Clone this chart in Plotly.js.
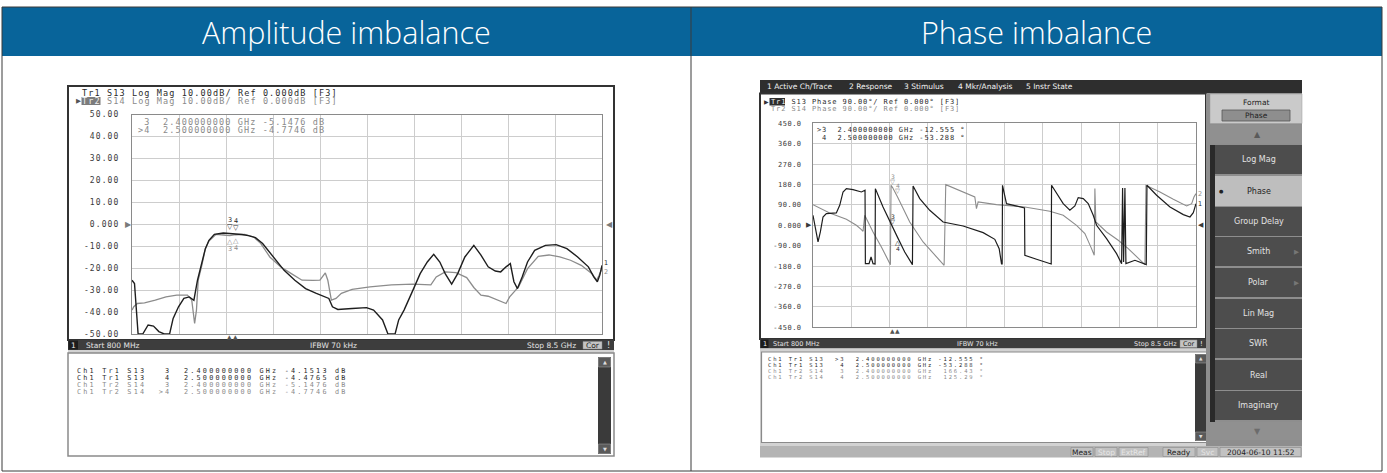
<!DOCTYPE html>
<html>
<head>
<meta charset="utf-8">
<script src="https://cdn.plot.ly/plotly-3.0.1.min.js"></script>
<style>
html,body{margin:0;padding:0;background:#ffffff;}
#chart{width:1387px;height:473px;}
</style>
</head>
<body>
<div id="chart"></div>
<script>
// ---------------- DATA ----------------
const headerTitles = ['Amplitude imbalance', 'Phase imbalance'];

// Amplitude (Log Mag) traces, frequency in GHz, values in dB
const ampFreqS13 = [0.800,0.841,0.900,0.976,1.064,1.152,1.240,1.328,1.416,1.474,1.562,1.650,1.738,1.814,1.873,1.932,2.002,2.061,2.149,2.295,2.400,2.500,2.600,2.706,2.823,2.940,3.116,3.292,3.468,3.644,3.820,4.025,4.084,4.172,4.406,4.641,4.758,4.905,4.993,5.110,5.169,5.257,5.403,5.521,5.638,5.743,5.843,5.931,6.037,6.136,6.253,6.400,6.517,6.635,6.752,6.840,6.928,6.998,7.057,7.115,7.192,7.280,7.397,7.573,7.749,7.925,8.101,8.277,8.365,8.424,8.464,8.500];
const ampS13 = [-25.5,-27.0,-50,-50,-45.9,-46.4,-48.9,-50,-50,-42.9,-37.6,-33.8,-33.1,-34.6,-25.5,-19.4,-11.1,-7.3,-4.6,-4.0,-4.1513,-4.4765,-4.7,-5.2,-6.1,-8.8,-14.9,-21.0,-25.5,-29.3,-31.5,-33.8,-37.6,-38.8,-38.4,-38.0,-39.1,-43.6,-50,-50,-43.6,-39.1,-30.0,-22.5,-17.2,-13.7,-17.2,-22.5,-27.3,-22.5,-14.9,-9.6,-14.1,-19.4,-21.3,-21.7,-19.4,-17.9,-26.2,-29.3,-24.0,-17.2,-11.9,-9.6,-9.3,-11.1,-14.9,-19.4,-24.0,-26.2,-23.2,-18.7];
const ampFreqS14 = [0.800,0.829,0.888,1.005,1.181,1.357,1.533,1.709,1.779,1.826,1.856,1.885,1.944,2.002,2.061,2.178,2.300,2.400,2.500,2.647,2.794,2.911,3.058,3.234,3.410,3.586,3.762,3.879,3.967,4.008,4.066,4.142,4.230,4.406,4.699,5.051,5.403,5.696,5.784,5.931,6.107,6.283,6.400,6.517,6.635,6.781,6.928,6.987,7.133,7.280,7.456,7.632,7.808,7.984,8.160,8.336,8.412,8.453,8.500];
const ampS14 = [-39.1,-37.6,-36.1,-35.8,-34.6,-33.1,-32.3,-32.3,-34.6,-45.2,-39.1,-25.5,-18.7,-11.1,-7.6,-4.6,-4.9,-5.1476,-4.7746,-4.6,-5.8,-8.8,-14.9,-19.4,-22.5,-25.5,-25.6,-25.5,-22.2,-25.5,-34.6,-33.8,-31.5,-29.7,-28.5,-27.6,-27.3,-27.6,-24.0,-21.7,-22.0,-24.3,-28.8,-32.3,-32.8,-34.6,-36.1,-33.1,-28.5,-20.2,-14.6,-14.0,-14.9,-16.4,-18.7,-22.5,-25.5,-23.2,-20.2];

// Phase traces, frequency in GHz, values in degrees
const phFreqS13 = [0.800,0.854,0.901,0.948,1.001,1.068,1.269,1.337,1.404,1.471,1.605,1.773,1.846,1.853,1.927,1.967,2.007,2.048,2.054,2.208,2.400,2.500,2.644,2.799,2.812,2.946,3.147,3.416,3.818,4.221,4.455,4.543,4.590,4.603,4.610,4.690,5.052,5.059,5.294,5.562,5.589,5.596,5.663,5.830,5.964,6.065,6.132,6.233,6.333,6.434,6.501,6.702,6.903,7.004,7.024,7.044,7.071,7.091,7.272,7.440,7.500,7.514,7.708,7.977,8.245,8.379,8.446,8.500];
const phS13 = [44.1,-29.4,-73.5,-29.4,36.8,51.5,54.4,88.2,147.1,161.8,157.4,147.1,154.4,-169.1,-169.1,-139.7,-169.1,-170.6,161.8,80.9,-12.555,-53.288,-117.6,-173.5,173.5,117.6,66.2,14.7,-2.9,-32.4,-61.8,-102.9,-170.6,-170.6,176.5,95.6,76.5,-132.4,-150.0,-170.6,-170.6,176.5,154.4,95.6,66.2,85.3,122.1,117.6,95.6,44.1,0,-58.8,-125.0,-169.1,164.7,-161.8,164.7,-169.1,-154.4,-170.6,-173.5,176.5,132.4,80.9,47.1,36.8,55.9,95.6];
const phFreqS14 = [0.800,0.934,1.135,1.471,1.672,1.773,1.806,1.840,2.007,2.175,2.356,2.369,2.400,2.500,2.745,3.013,3.248,3.436,3.469,3.818,4.053,4.086,4.120,4.489,5.059,5.562,5.830,6.098,6.266,6.400,6.454,6.467,6.487,6.702,6.937,7.138,7.339,7.473,7.494,7.775,8.044,8.312,8.413,8.459,8.500];
const phS14 = [91.2,76.5,54.4,26.5,0,-19.1,-26.5,44.1,-29.4,-95.6,-173.5,176.5,166.43,125.29,14.7,-73.5,-132.4,-176.5,179.4,147.1,125.0,73.5,102.9,91.2,80.9,61.8,44.1,0,-36.8,-102.9,-132.4,161.8,14.7,-29.4,-66.2,-102.9,-144.1,-173.5,176.5,147.1,114.7,85.3,95.6,125.0,139.7];

// Markers
const markerNames = ['3', '4'];
const markerFreq = [2.4, 2.5];
const ampS13Marker = [-4.1513, -4.4765];
const ampS14Marker = [-5.1476, -4.7746];
const phS13Marker = [-12.555, -53.288];
const phS14Marker = [166.43, 125.29];

// Axis ticks
const ampTickVals = [50,40,30,20,10,0,-10,-20,-30,-40,-50];
const ampTickText = ['50.00','40.00','30.00','20.00','10.00','0.000','-10.00','-20.00','-30.00','-40.00','-50.00'];
const phTickVals = [450,360,270,180,90,0,-90,-180,-270,-360,-450];
const phTickText = ['450.0','360.0','270.0','180.0','90.00','0.000','-90.00','-180.0','-270.0','-360.0','-450.0'];

// Instrument texts
const menuItems = ['1 Active Ch/Trace','2 Response','3 Stimulus','4 Mkr/Analysis','5 Instr State'];
const softkeys = ['Log Mag','Phase','Group Delay','Smith','Polar','Lin Mag','SWR','Real','Imaginary'];
const statusItems = ['Meas','Stop','ExtRef','Ready','Svc','2004-06-10 11:52'];

// ---------------- HELPERS ----------------
const W = 1387, H = 473;
const px = v => v / W;
const py = v => 1 - v / H;
const MONO = 'DejaVu Sans Mono, Liberation Mono, monospace';
const SANS = 'DejaVu Sans, Liberation Sans, sans-serif';
const nb = s => s.replace(/ /g, '\u00a0');
const sp = (s, l) => `<span style="letter-spacing:${l}px">${nb(s)}</span>`;

const shapes = [];
const annotations = [];
function rect(x0, y0, x1, y1, fill, lc, lw) {
  shapes.push({type:'rect', xref:'paper', yref:'paper', x0:px(x0), x1:px(x1), y0:py(y1), y1:py(y0),
    fillcolor: fill || 'rgba(0,0,0,0)', line:{color: lc || 'rgba(0,0,0,0)', width: lw || 0}, layer:'below'});
}
function seg(x0, y0, x1, y1, c, w) {
  shapes.push({type:'line', xref:'paper', yref:'paper', x0:px(x0), x1:px(x1), y0:py(y0), y1:py(y1),
    line:{color:c, width:w}, layer:'below'});
}
function txt(x, y, text, o) {
  o = o || {};
  annotations.push({xref:'paper', yref:'paper', x:px(x), y:py(y), text:text, showarrow:false,
    xanchor:o.xa || 'left', yanchor:'middle', align:'left', borderpad:0,
    font:{family:o.f || SANS, size:o.s || 8, color:o.c || '#222', weight:o.w || 400}});
}
function dtxt(xr, yr, x, y, text, o) {
  annotations.push({xref:xr, yref:yr, x:x, y:y, text:text, showarrow:false,
    xanchor:o.xa || 'center', yanchor:o.ya || 'middle', xshift:o.xs || 0, yshift:o.ys || 0, borderpad:0,
    font:{family:o.f || SANS, size:o.s || 8, color:o.c || '#222'}});
}

// ---------------- TABLE ----------------
rect(2, 7, 1382, 56, '#08649a');
rect(2, 7, 1382, 471, null, '#3a3a3a', 1);
seg(691, 7, 691, 471, '#3a3a3a', 1);
txt(346.5, 32, headerTitles[0], {xa:'center', f:'Open Sans, sans-serif', s:30.5, c:'#ffffff', w:300});
txt(1036.5, 32, headerTitles[1], {xa:'center', f:'Open Sans, sans-serif', s:30.5, c:'#ffffff', w:300});

// ---------------- LEFT SCREENSHOT ----------------
rect(68, 86, 614, 340, '#ffffff', '#333333', 2);
rect(68, 340, 614, 350, '#3d3d3d');
rect(68.5, 340.5, 78, 349.5, '#1c1c1c');
txt(73, 345.3, '1', {xa:'center', s:7.5, c:'#eeeeee'});
txt(85, 345.3, 'Start 800 MHz', {s:7.5, c:'#e4e4e4'});
txt(333, 345.3, 'IFBW 70 kHz', {xa:'center', s:7.5, c:'#e4e4e4'});
txt(577, 345.3, 'Stop 8.5 GHz', {xa:'right', s:7.5, c:'#e4e4e4'});
rect(583, 341.5, 602, 349, '#c4c4c4', '#888', 0.5);
txt(592.5, 345.3, 'Cor', {xa:'center', s:7.5, c:'#222'});
txt(608.5, 345.3, '!', {xa:'center', s:8, c:'#eeeeee'});
rect(68, 350, 614, 357, '#d2d2d2');
rect(68, 353, 614, 456, '#ffffff', '#8a8a8a', 1.5);
rect(598, 357, 611, 454, '#3a3a3a');
rect(598.5, 357.5, 610.5, 367, '#5a5a5a', '#aaa', 0.5);
rect(598.5, 444, 610.5, 453.5, '#5a5a5a', '#aaa', 0.5);
txt(604.5, 362, '▲', {xa:'center', s:5, c:'#dddddd'});
txt(604.5, 449, '▼', {xa:'center', s:5, c:'#dddddd'});

// header lines
rect(81.5, 97, 100.5, 105, '#7c7c7c');
txt(78.5, 101.2, '▶', {xa:'center', s:6.5, c:'#555'});
txt(80.5, 92.6, sp('Tr1 S13 Log Mag 10.00dB/ Ref 0.000dB [F3]', 1.12), {f:MONO, s:8.5, c:'#2a2a2a'});
txt(80.5, 101.2, '<span style="letter-spacing:1.12px;fill:#f0f0f0">Tr2</span>' + sp(' S14 Log Mag 10.00dB/ Ref 0.000dB [F3]', 1.12), {f:MONO, s:8.5, c:'#8a8a8a'});

// in-plot readout (active trace Tr2)
txt(136.5, 122, sp(' ' + markerNames[0] + '  ' + markerFreq[0].toFixed(9) + ' GHz ' + ampS14Marker[0].toFixed(4) + ' dB', 1.12), {f:MONO, s:8.5, c:'#8a8a8a'});
txt(136.5, 130.3, sp('>' + markerNames[1] + '  ' + markerFreq[1].toFixed(9) + ' GHz ' + ampS14Marker[1].toFixed(4) + ' dB', 1.12), {f:MONO, s:8.5, c:'#8a8a8a'});

// marker table lines
const ampRows = [
  ['Ch1 Tr1 S13   ' + markerNames[0], markerFreq[0], ampS13Marker[0], '#2a2a2a'],
  ['Ch1 Tr1 S13   ' + markerNames[1], markerFreq[1], ampS13Marker[1], '#2a2a2a'],
  ['Ch1 Tr2 S14   ' + markerNames[0], markerFreq[0], ampS14Marker[0], '#8a8a8a'],
  ['Ch1 Tr2 S14  >' + markerNames[1], markerFreq[1], ampS14Marker[1], '#8a8a8a']
];
ampRows.forEach((r, i) => {
  txt(75.5, 371 + i * 7, sp(r[0] + '  ' + r[1].toFixed(9) + ' GHz ' + r[2].toFixed(4) + ' dB', 2.2), {f:MONO, s:6.8, c:r[3]});
});

// ---------------- RIGHT SCREENSHOT ----------------
rect(760, 80, 1302, 93.5, '#2e2e2e');
const menuX = [766, 848, 903, 957, 1025];
menuItems.forEach((m, i) => txt(menuX[i], 87, m, {s:7.5, c:'#f2f2f2'}));

rect(760, 93.5, 1206, 339, '#ffffff', '#333333', 2);
rect(769.5, 98, 785, 105.5, '#2e2e2e');
txt(766, 101.8, '▶', {xa:'center', s:6, c:'#333'});
txt(769.5, 101.8, '<span style="letter-spacing:0.9px;fill:#f0f0f0">Tr1</span>' + sp(' S13 Phase 90.00°/ Ref 0.000° [F3]', 0.9), {f:MONO, s:7, c:'#2a2a2a'});
txt(769.5, 109, sp('Tr2 S14 Phase 90.00°/ Ref 0.000° [F3]', 0.9), {f:MONO, s:7, c:'#8a8a8a'});

txt(815.5, 130.3, sp('>' + markerNames[0] + '  ' + markerFreq[0].toFixed(9) + ' GHz ' + phS13Marker[0].toFixed(3) + ' °', 0.9), {f:MONO, s:7, c:'#2a2a2a'});
txt(815.5, 137.6, sp(' ' + markerNames[1] + '  ' + markerFreq[1].toFixed(9) + ' GHz ' + phS13Marker[1].toFixed(3) + ' °', 0.9), {f:MONO, s:7, c:'#2a2a2a'});

// status bar of right chart
rect(760, 339, 1206, 348.5, '#3d3d3d');
rect(761, 339.5, 768.5, 348, '#1c1c1c');
txt(764.7, 343.8, '1', {xa:'center', s:6.5, c:'#eeeeee'});
txt(771.5, 343.8, 'Start 800 MHz', {s:6.5, c:'#e4e4e4'});
txt(977, 343.8, 'IFBW 70 kHz', {xa:'center', s:6.5, c:'#e4e4e4'});
txt(1178, 343.8, 'Stop 8.5 GHz', {xa:'right', s:6.5, c:'#e4e4e4'});
rect(1180, 340, 1197, 347.5, '#c4c4c4', '#888', 0.5);
txt(1188.5, 343.8, 'Cor', {xa:'center', s:6.5, c:'#222'});
txt(1201.5, 343.8, '!', {xa:'center', s:7, c:'#eeeeee'});

// marker table of right chart
rect(760, 348.5, 1209, 446, '#d2d2d2');
rect(761.5, 352, 1208, 442.5, '#ffffff', '#8a8a8a', 1.2);
rect(1195, 354, 1207, 441, '#3a3a3a');
rect(1195.5, 354.5, 1206.5, 363, '#5a5a5a', '#aaa', 0.5);
rect(1195.5, 432, 1206.5, 440.5, '#5a5a5a', '#aaa', 0.5);
txt(1201, 358.8, '▲', {xa:'center', s:4.5, c:'#dddddd'});
txt(1201, 436.3, '▼', {xa:'center', s:4.5, c:'#dddddd'});
const phRows = [
  ['Ch1 Tr1 S13  >' + markerNames[0], markerFreq[0], phS13Marker[0].toFixed(3), '#2a2a2a'],
  ['Ch1 Tr1 S13   ' + markerNames[1], markerFreq[1], phS13Marker[1].toFixed(3), '#2a2a2a'],
  ['Ch1 Tr2 S14   ' + markerNames[0], markerFreq[0], phS14Marker[0].toFixed(2), '#8a8a8a'],
  ['Ch1 Tr2 S14   ' + markerNames[1], markerFreq[1], phS14Marker[1].toFixed(2), '#8a8a8a']
];
phRows.forEach((r, i) => {
  txt(767, 358.5 + i * 6, sp(r[0] + '  ' + r[1].toFixed(9) + ' GHz ' + r[2].padStart(7, ' ') + ' °', 1.85), {f:MONO, s:5.5, c:r[3]});
});

// softkey column
rect(1206, 93.5, 1302, 446, '#8e8e8e');
rect(1210, 94, 1302, 123.5, '#cacaca', '#9a9a9a', 0.5);
txt(1256, 102.8, 'Format', {xa:'center', s:7.5, c:'#222'});
rect(1222, 110, 1290, 121, '#8e8e8e', '#555', 0.8);
txt(1256, 115.6, 'Phase', {xa:'center', s:7.5, c:'#222'});
rect(1210, 125, 1302, 143.5, '#909090');
txt(1257, 134, '▲', {xa:'center', s:8, c:'#5a5a5a'});
rect(1210, 145, 1215, 440, '#2a2a2a');
const keyY = [[145,174],[176,206],[207,236],[237,266],[268,297],[299,328],[329,358],[360,390],[391,420]];
softkeys.forEach((k, i) => {
  const sel = k === 'Phase';
  rect(1215, keyY[i][0], 1302, keyY[i][1], sel ? '#bebebe' : '#4d4d4d');
  const yc = (keyY[i][0] + keyY[i][1]) / 2;
  txt(1258.5, yc, k, {xa:'center', s:8, c: sel ? '#1e1e1e' : '#e2e2e2'});
  if (sel) txt(1221, yc, '●', {xa:'center', s:5, c:'#222'});
  if (k === 'Smith' || k === 'Polar') txt(1296, yc, '▶', {xa:'center', s:6.5, c:'#767676'});
});
rect(1210, 422, 1302, 440, '#909090');
txt(1257, 431, '▼', {xa:'center', s:8, c:'#6c6c6c'});

// bottom status bar
rect(760, 446, 1302, 457.5, '#b4b4b4');
const statusX = [[1071,1093],[1095,1117],[1119,1148],[1163,1195],[1197,1218],[1220,1301]];
statusItems.forEach((s, i) => {
  const dim = (s === 'Stop' || s === 'ExtRef' || s === 'Svc');
  rect(statusX[i][0], 447.5, statusX[i][1], 456.5, '#c2c2c2', '#8a8a8a', 0.6);
  txt((statusX[i][0] + statusX[i][1]) / 2, 452, s, {xa:'center', s:7.5, c: dim ? '#e6e6e6' : '#1e1e1e'});
});

// ---------------- PLOT-LINKED MARKS ----------------
const DARK = '#1e1e1e', GRAY = '#8c8c8c';
// reference triangles at 0
dtxt('paper', 'y', px(128.5), 0, '▶', {s:8, c:'#7a7a7a'});
dtxt('paper', 'y', px(609), 0, '◀', {s:8, c:'#7a7a7a'});
dtxt('paper', 'y2', px(808.5), 0, '▶', {s:7, c:'#3a3a3a'});
dtxt('paper', 'y2', px(1201), 0, '◀', {s:7, c:'#3a3a3a'});
markerFreq.forEach((f, i) => {
  // amplitude chart markers
  dtxt('x', 'y', f, ampS13Marker[i], '▽', {ya:'bottom', s:7, c:DARK, ys:1});
  dtxt('x', 'y', f, ampS13Marker[i], markerNames[i], {ya:'bottom', s:6.5, c:DARK, ys:8});
  dtxt('x', 'y', f, ampS14Marker[i], '△', {ya:'top', s:7, c:GRAY, ys:-1});
  dtxt('x', 'y', f, ampS14Marker[i], markerNames[i], {ya:'top', s:6.5, c:GRAY, ys:-8});
  dtxt('x', 'y', f, -50, '▲', {ya:'top', s:6, c:'#555', ys:2});
  // phase chart markers
  dtxt('x2', 'y2', f, phS14Marker[i], '▽', {ya:'bottom', s:6.5, c:GRAY, ys:1});
  dtxt('x2', 'y2', f, phS14Marker[i], markerNames[i], {ya:'bottom', s:6, c:GRAY, ys:7});
  dtxt('x2', 'y2', f, -450, '▲', {ya:'top', s:6, c:'#555', ys:1});
});
dtxt('x2', 'y2', markerFreq[0], phS13Marker[0], '▽', {ya:'bottom', s:6.5, c:DARK, ys:1});
dtxt('x2', 'y2', markerFreq[0], phS13Marker[0], markerNames[0], {ya:'bottom', s:6, c:DARK, ys:7});
dtxt('x2', 'y2', markerFreq[1], phS13Marker[1], '△', {ya:'top', s:6.5, c:DARK, ys:-1});
dtxt('x2', 'y2', markerFreq[1], phS13Marker[1], markerNames[1], {ya:'top', s:6, c:DARK, ys:-7});
// trace end labels
dtxt('x', 'y', ampFreqS13[ampFreqS13.length - 1], ampS13[ampS13.length - 1], '1', {xa:'left', s:6.5, c:DARK, xs:1, ys:2});
dtxt('x', 'y', ampFreqS14[ampFreqS14.length - 1], ampS14[ampS14.length - 1], '2', {xa:'left', s:6.5, c:GRAY, xs:1, ys:-3});
dtxt('x2', 'y2', phFreqS13[phFreqS13.length - 1], phS13[phS13.length - 1], '1', {xa:'left', s:6.5, c:DARK, xs:1});
dtxt('x2', 'y2', phFreqS14[phFreqS14.length - 1], phS14[phS14.length - 1], '2', {xa:'left', s:6.5, c:GRAY, xs:1});

// ---------------- TRACES ----------------
const traces = [
  {x:ampFreqS14, y:ampS14, xaxis:'x', yaxis:'y', mode:'lines', line:{color:GRAY, width:1.3}, hoverinfo:'skip'},
  {x:ampFreqS13, y:ampS13, xaxis:'x', yaxis:'y', mode:'lines', line:{color:DARK, width:1.4}, hoverinfo:'skip'},
  {x:phFreqS14, y:phS14, xaxis:'x2', yaxis:'y2', mode:'lines', line:{color:GRAY, width:1.1}, hoverinfo:'skip'},
  {x:phFreqS13, y:phS13, xaxis:'x2', yaxis:'y2', mode:'lines', line:{color:DARK, width:1.2}, hoverinfo:'skip'}
];

const gridC = '#cdcdcd', frameC = '#8a8a8a';
const xBase = {range:[0.8, 8.5], tick0:0.8, dtick:0.77, showticklabels:false, ticks:'', showgrid:true,
  gridcolor:gridC, gridwidth:1, zeroline:false, showline:true, mirror:true, linecolor:frameC, linewidth:1, fixedrange:true};
const layout = {
  width:W, height:H, margin:{l:0, r:0, t:0, b:0, pad:0},
  paper_bgcolor:'#ffffff', plot_bgcolor:'#ffffff', showlegend:false,
  xaxis:Object.assign({}, xBase, {domain:[px(132), px(602)], anchor:'y'}),
  yaxis:{domain:[py(334), py(114.5)], range:[-50, 50], anchor:'x', tickmode:'array', tickvals:ampTickVals,
    ticktext:ampTickText.map(t => sp(t, 1.1)), tickfont:{family:MONO, size:8, color:'#3a3a3a'},
    ticks:'outside', ticklen:10, tickcolor:'rgba(0,0,0,0)', showgrid:true, gridcolor:gridC, zeroline:false,
    showline:true, mirror:true, linecolor:frameC, linewidth:1, fixedrange:true},
  xaxis2:Object.assign({}, xBase, {domain:[px(813), px(1196)], anchor:'y2'}),
  yaxis2:{domain:[py(327.3), py(123.3)], range:[-450, 450], anchor:'x2', tickmode:'array', tickvals:phTickVals,
    ticktext:phTickText.map(t => sp(t, 0.5)), tickfont:{family:MONO, size:7, color:'#3a3a3a'},
    ticks:'outside', ticklen:9, tickcolor:'rgba(0,0,0,0)', showgrid:true, gridcolor:gridC, zeroline:false,
    showline:true, mirror:true, linecolor:frameC, linewidth:1, fixedrange:true},
  shapes:shapes,
  annotations:annotations
};

Plotly.newPlot('chart', traces, layout, {displayModeBar:false, staticPlot:true});
</script>
</body>
</html>
